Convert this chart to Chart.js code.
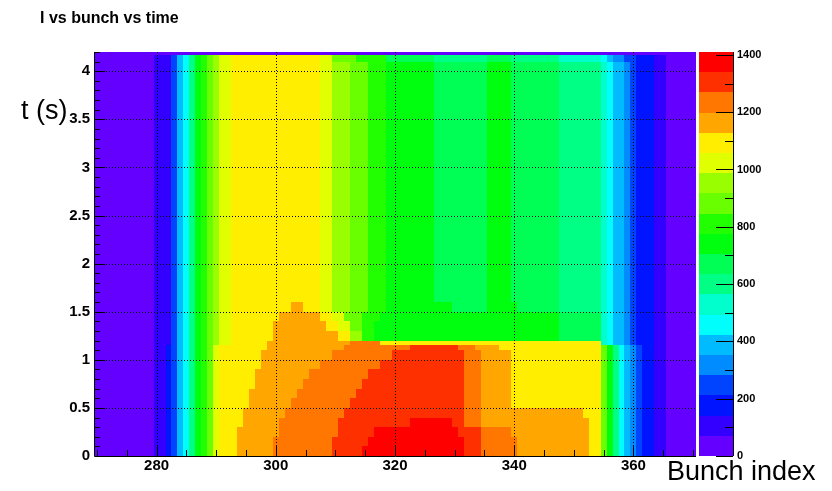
<!DOCTYPE html>
<html>
<head>
<meta charset="utf-8">
<title>I vs bunch vs time</title>
<script src="https://cdn.jsdelivr.net/npm/chart.js@4.4.1/dist/chart.umd.min.js"></script>
<style>
  html, body { margin: 0; padding: 0; background: #fff; }
  #wrap { position: relative; width: 832px; height: 491px; }
</style>
</head>
<body>
<div id="wrap"><canvas id="chart" width="832" height="491"></canvas></div>
<script>
// axis ticks
const bunchTicks = [280, 300, 320, 340, 360];
const timeTicks = [0, 0.5, 1, 1.5, 2, 2.5, 3, 3.5, 4];
const intensityTicks = [0, 200, 400, 600, 800, 1000, 1200, 1400];
const intensityMax = 1410;
const nContours = 20;

// time bands (s); band i spans timeEdges[i]..timeEdges[i+1]
const timeEdges = [0, 0.1, 0.2, 0.3, 0.4, 0.5, 0.6, 0.7, 0.8, 0.9, 1.0, 1.1, 1.15, 1.2, 1.3, 1.4, 1.5, 1.6, 4.1, 4.165, 4.2];

// intensity per bunch as runs of [first bunch, I]; a run lasts up to the next one
const lowLeft = [[270, 40], [280, 110], [282, 180], [283, 250], [284, 390], [285, 460], [286, 600], [287, 740], [288, 810], [289, 880], [290, 1020], [291, 1090]];
const lowRight = [[355, 880], [356, 740], [357, 600], [358, 460], [359, 390], [360, 320], [361, 250], [362, 180], [364, 110], [366, 40]];
const upperLeft = [[270, 40], [280, 110], [283, 250], [284, 390], [285, 460], [286, 600], [287, 740], [288, 810], [289, 880], [290, 950], [291, 1020], [293, 1090]];
const upperEdge = [[355, 530], [356, 460], [357, 390], [359, 320], [360, 250], [361, 180], [364, 110], [366, 40]];
const upperMid = [[308, 1020], [310, 950], [313, 880], [316, 810], [319, 740], [327, 670], [336, 740], [340, 670], [348, 600]];
const topMid = [[308, 1020], [310, 880], [314, 810], [319, 670], [327, 600], [336, 670], [340, 600], [348, 530], [355, 460], [356, 390], [357, 320], [359, 250], [361, 180], [364, 110], [366, 40]];

const bandRuns = [
  [...lowLeft, [294, 1160], [300, 1230], [310, 1300], [315, 1370], [332, 1300], [335, 1230], [341, 1160], [353, 1090], ...lowRight],
  [...lowLeft, [294, 1160], [300, 1230], [310, 1300], [316, 1370], [332, 1300], [335, 1230], [341, 1160], [353, 1090], ...lowRight],
  [...lowLeft, [294, 1160], [301, 1230], [311, 1300], [317, 1370], [331, 1300], [335, 1230], [340, 1160], [353, 1090], ...lowRight],
  [...lowLeft, [295, 1160], [301, 1230], [311, 1300], [323, 1370], [330, 1300], [332, 1230], [335, 1160], [353, 1090], ...lowRight],
  [...lowLeft, [295, 1160], [302, 1230], [312, 1300], [332, 1230], [335, 1160], [352, 1090], ...lowRight],
  [...lowLeft, [296, 1160], [303, 1230], [313, 1300], [332, 1230], [335, 1160], [340, 1090], ...lowRight],
  [...lowLeft, [296, 1160], [304, 1230], [314, 1300], [332, 1230], [335, 1160], [340, 1090], ...lowRight],
  [...lowLeft, [297, 1160], [305, 1230], [315, 1300], [332, 1230], [335, 1160], [340, 1090], ...lowRight],
  [...lowLeft, [297, 1160], [306, 1230], [316, 1300], [332, 1230], [335, 1160], [340, 1090], ...lowRight],
  [...lowLeft, [298, 1160], [308, 1230], [318, 1300], [332, 1230], [335, 1160], [340, 1090], ...lowRight],
  [...lowLeft, [298, 1160], [310, 1230], [320, 1300], [332, 1230], [335, 1160], [340, 1090], ...lowRight],
  [...lowLeft, [299, 1160], [312, 1230], [323, 1300], [331, 1230], [334, 1160], [338, 1090], ...lowRight],
  [...upperLeft, [299, 1160], [313, 1230], [318, 1090], ...upperEdge],
  [...upperLeft, [300, 1160], [311, 1090], [313, 950], [315, 810], [317, 740], [348, 670], ...upperEdge],
  [...upperLeft, [300, 1160], [309, 1090], [311, 1020], [313, 880], [315, 810], [317, 740], [348, 670], ...upperEdge],
  [...upperLeft, [301, 1160], [308, 1090], [310, 1020], [312, 880], [315, 810], [318, 740], [348, 670], ...upperEdge],
  [...upperLeft, [303, 1160], [305, 1090], [308, 1020], [310, 950], [313, 880], [316, 810], [319, 740], [330, 670], [336, 740], [341, 670], [348, 600], ...upperEdge],
  [...upperLeft, ...upperMid, ...upperEdge],
  [...upperLeft, ...topMid],
  [[270, 40]]
];

const cells = [];
bandRuns.forEach((runs, i) => {
  const t0 = timeEdges[i], t1 = timeEdges[i + 1];
  runs.forEach((run, k) => {
    const end = k + 1 < runs.length ? runs[k + 1][0] : 371;
    for (let b = run[0]; b < end; b++) {
      cells.push({ x: b, y: (t0 + t1) / 2, t0: t0, t1: t1, v: run[1] });
    }
  });
});

// 50-colour violet->red palette, sampled for 20 contour levels
function contourColour(v) {
  let j = Math.floor(v / (intensityMax / nContours));
  j = Math.max(0, Math.min(nContours - 1, j));
  const idx = Math.floor((j + 0.99) * 50 / nContours);
  const hue = 280 - (idx + 1) * 5.6;
  return 'hsl(' + hue + ', 100%, 50%)';
}

const heatmapPlugin = {
  id: 'heatmap',
  beforeDraw(chart) {
    const ctx = chart.ctx;
    const area = chart.chartArea;
    const xs = chart.scales.x, ys = chart.scales.y, zs = chart.scales.z;

    ctx.save();
    ctx.beginPath();
    ctx.rect(area.left, area.top, area.right - area.left, area.bottom - area.top);
    ctx.clip();
    chart.data.datasets[0].data.forEach(c => {
      const x0 = Math.round(xs.getPixelForValue(c.x - 0.5));
      const x1 = Math.round(xs.getPixelForValue(c.x + 0.5));
      const y0 = Math.round(ys.getPixelForValue(c.t1));
      const y1 = Math.round(ys.getPixelForValue(c.t0));
      ctx.fillStyle = contourColour(c.v);
      ctx.fillRect(x0, y0, x1 - x0, y1 - y0);
    });
    ctx.restore();

    // colour scale
    const step = intensityMax / nContours;
    const bx0 = area.right + 3, bx1 = area.right + 37;
    for (let j = 0; j < nContours; j++) {
      const yTop = Math.round(zs.getPixelForValue((j + 1) * step));
      const yBot = Math.round(zs.getPixelForValue(j * step));
      ctx.fillStyle = contourColour((j + 0.5) * step);
      ctx.fillRect(bx0, yTop, bx1 - bx0, yBot - yTop);
    }
  },
  afterDraw(chart) {
    const ctx = chart.ctx;
    const area = chart.chartArea;
    const xs = chart.scales.x, ys = chart.scales.y, zs = chart.scales.z;
    ctx.save();

    // dotted grid
    ctx.strokeStyle = '#000';
    ctx.lineWidth = 1;
    ctx.setLineDash([1, 2]);
    bunchTicks.forEach(b => {
      const x = Math.round(xs.getPixelForValue(b)) + 0.5;
      ctx.beginPath(); ctx.moveTo(x, area.top); ctx.lineTo(x, area.bottom); ctx.stroke();
    });
    timeTicks.slice(1).forEach(t => {
      const y = Math.round(ys.getPixelForValue(t)) + 0.5;
      ctx.beginPath(); ctx.moveTo(area.left, y); ctx.lineTo(area.right, y); ctx.stroke();
    });
    ctx.setLineDash([]);

    // axes with inward ticks
    ctx.beginPath();
    ctx.moveTo(area.left + 0.5, area.top);
    ctx.lineTo(area.left + 0.5, area.bottom + 0.5);
    ctx.lineTo(area.right, area.bottom + 0.5);
    ctx.stroke();
    for (let b = 270; b <= 370; b += 5) {
      const x = Math.round(xs.getPixelForValue(b)) + 0.5;
      const len = b % 20 === 0 ? 11 : 6;
      ctx.beginPath(); ctx.moveTo(x, area.bottom); ctx.lineTo(x, area.bottom - len); ctx.stroke();
    }
    for (let k = 1; k <= 42; k++) {
      const y = Math.round(ys.getPixelForValue(k / 10)) + 0.5;
      const len = k % 5 === 0 ? 11 : 6;
      ctx.beginPath(); ctx.moveTo(area.left, y); ctx.lineTo(area.left + len, y); ctx.stroke();
    }

    // colour scale axis
    const bx1 = area.right + 37;
    ctx.beginPath(); ctx.moveTo(bx1 + 0.5, area.top); ctx.lineTo(bx1 + 0.5, area.bottom); ctx.stroke();
    intensityTicks.forEach(v => {
      const y = Math.round(zs.getPixelForValue(v)) + 0.5;
      ctx.beginPath(); ctx.moveTo(bx1, y); ctx.lineTo(bx1 - 17, y); ctx.stroke();
    });
    for (let v = 100; v < intensityMax; v += 200) {
      const y = Math.round(zs.getPixelForValue(v)) + 0.5;
      ctx.beginPath(); ctx.moveTo(bx1, y); ctx.lineTo(bx1 - 8, y); ctx.stroke();
    }

    // titles
    ctx.fillStyle = '#000';
    ctx.textBaseline = 'alphabetic';
    ctx.textAlign = 'left';
    ctx.font = 'bold 16px "Liberation Sans", Arial, sans-serif';
    ctx.fillText('I vs bunch vs time', 40, 23);
    ctx.font = '27px "Liberation Sans", Arial, sans-serif';
    ctx.fillText('t (s)', 21, 119);
    ctx.fillText('Bunch index', 667, 480);
    ctx.restore();
  }
};

const tickFont = { family: '"Liberation Sans", Arial, sans-serif', size: 15, weight: 'bold' };
const plainLabel = v => String(v);

new Chart(document.getElementById('chart'), {
  type: 'scatter',
  data: {
    datasets: [{ label: 'I', data: cells, pointRadius: 0, pointHoverRadius: 0 }]
  },
  options: {
    responsive: false,
    animation: false,
    events: [],
    layout: { autoPadding: false, padding: { top: 52, left: 0, right: 0, bottom: 0 } },
    plugins: { legend: { display: false }, tooltip: { enabled: false } },
    scales: {
      x: {
        type: 'linear', position: 'bottom', min: 269.5, max: 370.5,
        afterBuildTicks: s => { s.ticks = bunchTicks.map(v => ({ value: v })); },
        afterFit: s => { s.height = 35; },
        grid: { display: false, drawTicks: false },
        border: { display: false },
        ticks: { color: '#000', font: tickFont, padding: 1, maxRotation: 0, callback: plainLabel }
      },
      y: {
        type: 'linear', position: 'left', min: 0, max: 4.2,
        afterBuildTicks: s => { s.ticks = timeTicks.map(v => ({ value: v })); },
        afterFit: s => { s.width = 94; },
        grid: { display: false, drawTicks: false },
        border: { display: false },
        ticks: { color: '#000', font: tickFont, padding: 4, callback: plainLabel }
      },
      z: {
        type: 'linear', position: 'right', min: 0, max: intensityMax,
        afterBuildTicks: s => { s.ticks = intensityTicks.map(v => ({ value: v })); },
        afterFit: s => { s.width = 136; },
        // tick marks are drawn by the plugin; the length only offsets the labels past the colour bar
        grid: { display: false, drawTicks: true, tickLength: 37 },
        border: { display: false },
        ticks: { color: '#000', font: { family: '"Liberation Sans", Arial, sans-serif', size: 11, weight: 'bold' }, padding: 4, callback: plainLabel }
      }
    }
  },
  plugins: [heatmapPlugin]
});
</script>
</body>
</html>
